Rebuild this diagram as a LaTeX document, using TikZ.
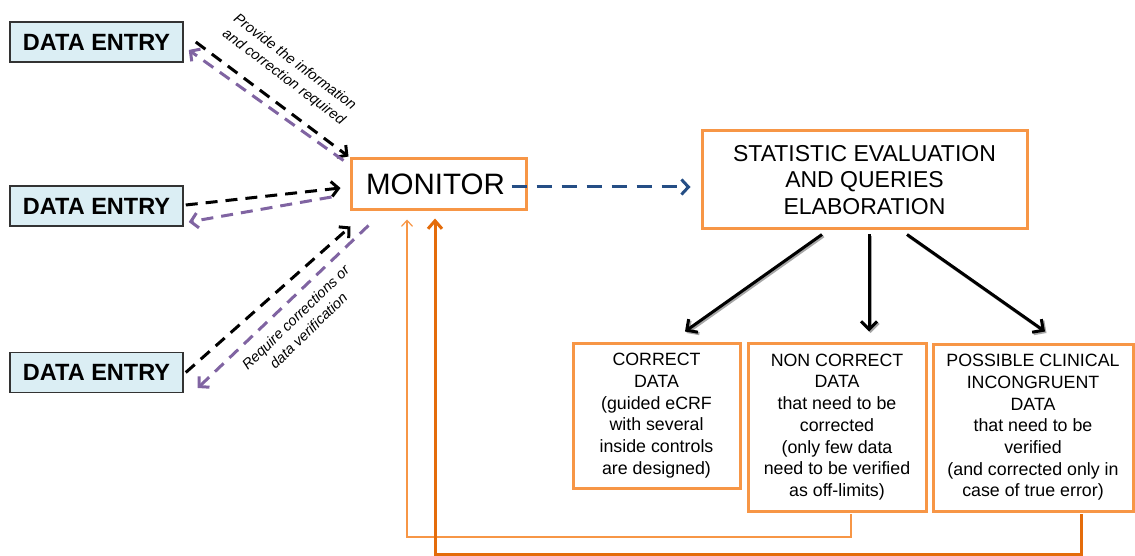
\documentclass[tikz,border=0pt]{standalone}
\usepackage{fontspec}
\setmainfont{Liberation Sans}
\usetikzlibrary{arrows.meta,calc}
\definecolor{boxorange}{HTML}{F79646}
\definecolor{darkorange}{HTML}{E46C0A}
\definecolor{arrpurple}{HTML}{8064A2}
\definecolor{arrblue}{RGB}{37,78,133}
\definecolor{entryfill}{HTML}{DBEEF4}
\begin{document}
\begin{tikzpicture}[x=1pt,y=-1pt,
  entry/.style={draw=black!80,line width=1.5pt,fill=entryfill,minimum width=173pt,minimum height=40pt,inner sep=0pt,
    font=\fontsize{23.5}{28}\selectfont\bfseries},
  obox/.style={draw=boxorange,line width=3pt,fill=white,inner sep=0pt,align=center},
  smalltext/.style={font=\fontsize{17.8}{21.7}\selectfont},
  dlink/.style={line width=3pt,dash pattern=on 12pt off 8pt,-{Straight Barb[length=7pt,width=15pt]}},
  blink/.style={line width=3pt,dash pattern=on 15pt off 10pt,-{Straight Barb[length=7pt,width=15pt]}},
  slink/.style={line width=3pt,-{Straight Barb[length=8pt,width=16pt]},
    preaction={draw=black!35,line width=3pt,transform canvas={shift={(1.5pt,-1.5pt)}}}},
  lbl/.style={font=\fontsize{14.5}{18.5}\selectfont\itshape,align=center,inner sep=0pt}
]
\useasboundingbox (0,0) rectangle (1135,556);

% nodes
\node[entry] (de1) at (96.5,42) {DATA ENTRY};
\node[entry] (de2) at (96.5,206) {DATA ENTRY};
\node[entry] (de3) at (96.5,372.5) {DATA ENTRY};
\node[obox,minimum width=175pt,minimum height=51pt,font=\fontsize{29.5}{34}\selectfont] (mon) at (438.5,184.5) {\hspace*{-6pt}MONITOR};
\node[obox,minimum width=325pt,minimum height=98pt,font=\fontsize{23}{26.7}\selectfont] (stat) at (864.5,180)
  {STATISTIC EVALUATION\\AND QUERIES\\ELABORATION};
\node[obox,smalltext,minimum width=167pt,minimum height=145pt] (cor) at (656.5,415.5)
  {CORRECT\\DATA\\(guided eCRF\\with several\\inside controls\\are designed)};
\node[obox,smalltext,minimum width=178pt,minimum height=168pt] (ncor) at (837,427)
  {NON CORRECT\\DATA\\that need to be\\corrected\\(only few data\\need to be verified\\as off-limits)};
\node[obox,smalltext,minimum width=200pt,minimum height=167pt] (pos) at (1033,427.5)
  {POSSIBLE CLINICAL\\INCONGRUENT\\DATA\\that need to be\\verified\\(and corrected only in\\case of true error)};

% left dashed arrows
\draw[dlink,black] ($(de1.east)+(12,0)$) -- ($(mon.north west)+(-1,-1)$);
\draw[dlink,arrpurple] ($(mon.north west)+(-6,3)$) -- ($(de1.east)+(5,8)$);
\draw[dlink,black] ($(de2.east)+(2,-1)$) -- ($(mon.west)+(-9,3.5)$);
\draw[dlink,arrpurple] ($(mon.west)+(-18,12.5)$) -- ($(de2.east)+(5,16)$);
\draw[dlink,black] ($(de3.east)+(2,0)$) -- ($(mon.south west)+(1,15)$);
\draw[dlink,arrpurple] ($(mon.south west)+(19,14)$) -- ($(de3.east)+(14,15.5)$);

% labels
\node[lbl,rotate=-37] (l1) at (289,70) {Provide the information\\and correction required};
\node[lbl,rotate=44] (l2) at (302,324) {Require corrections or\\data verification};

% blue arrow
\draw[blink,arrblue] ($(mon.east)+(-16,2.5)$) -- ($(stat.west)+(-10,7)$);

% statistic arrows
\draw[slink] ($(stat.south)+(-42.5,4)$) -- ($(cor.north)+(28.5,-10)$);
\draw[slink] ($(stat.south)+(4.5,4)$) -- ($(ncor.north)+(32,-10)$);
\draw[slink] ($(stat.south)+(42.5,4)$) -- ($(pos.north)+(12,-11)$);

% feedback arrows
\draw[boxorange,line width=1.2pt,-{Straight Barb[length=6pt,width=11pt]}]
  ($(ncor.south)+(14,1.5)$) |- (407,537) -- ($(mon.south)+(-31.5,8)$);
\draw[darkorange,line width=3pt,-{Straight Barb[length=8pt,width=14pt]}]
  ($(pos.south)+(48,1.5)$) |- (435,554) -- ($(mon.south)+(-3.5,7)$);
\end{tikzpicture}
\end{document}
